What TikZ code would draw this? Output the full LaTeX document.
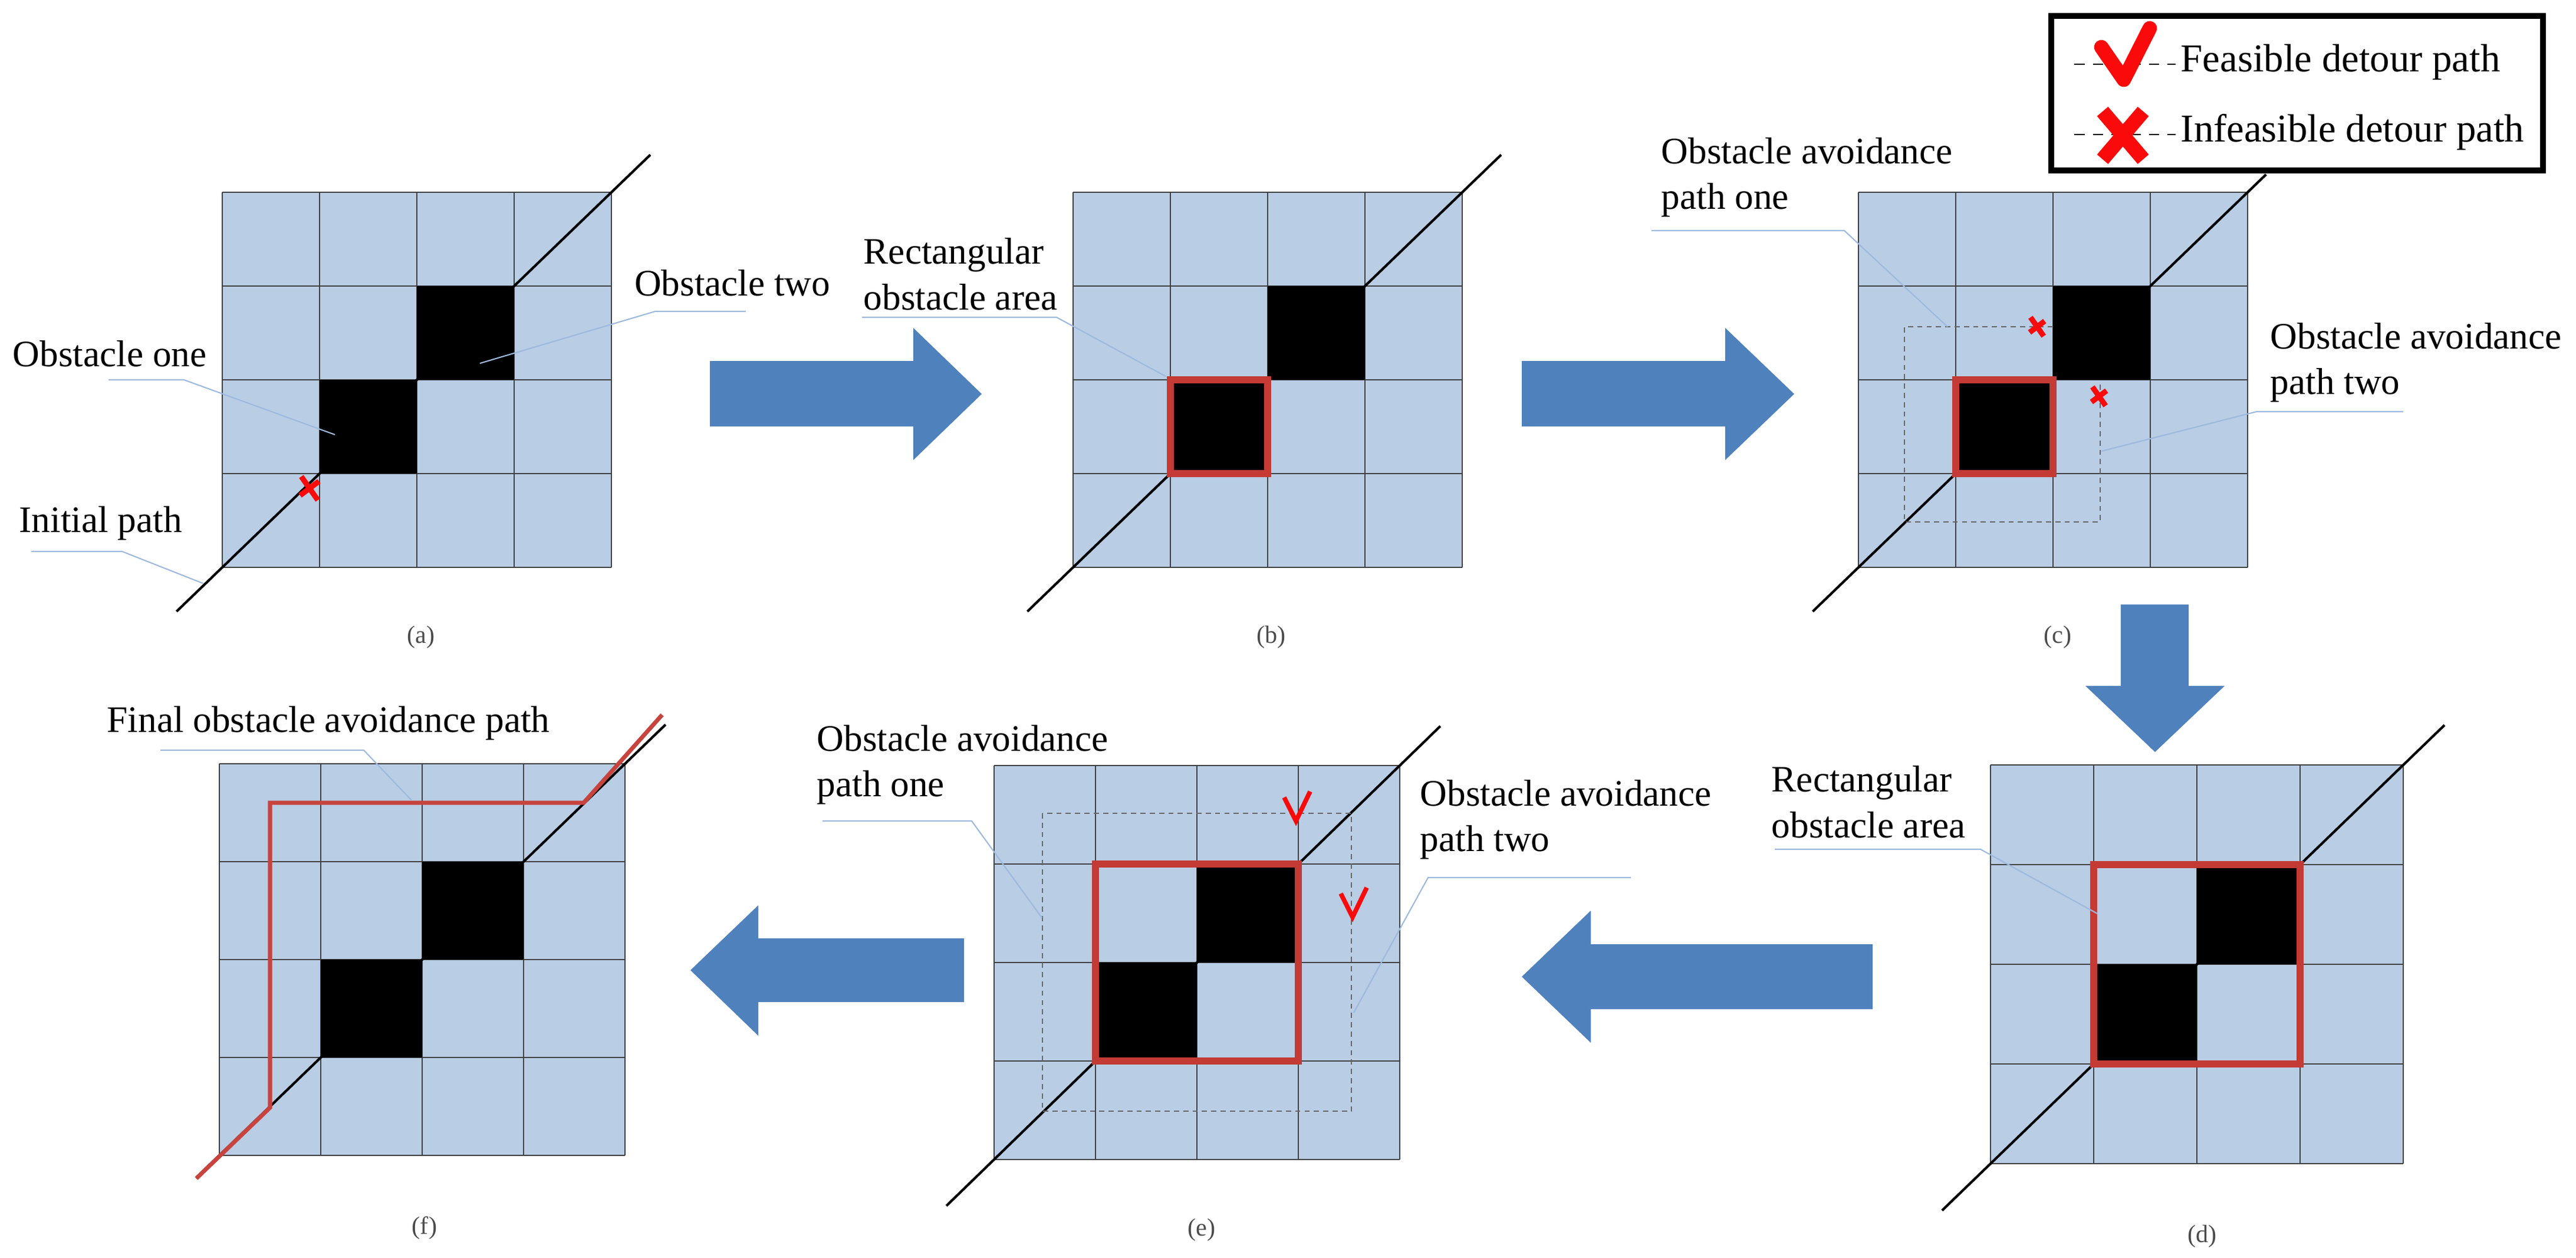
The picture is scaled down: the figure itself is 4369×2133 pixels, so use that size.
\documentclass[tikz,border=0pt]{standalone}
\usepackage{fontspec}
\setmainfont{Liberation Serif}
\definecolor{cellblue}{HTML}{B9CDE5}
\definecolor{arrowblue}{HTML}{4F81BD}
\definecolor{leaderblue}{HTML}{9DB9DE}
\definecolor{obsred}{RGB}{196,58,52}
\definecolor{markred}{RGB}{250,10,10}
\tikzset{
  gridline/.style={draw=black!75,line width=0.8pt},
  diag/.style={black,line width=1.2pt},
  obsrect/.style={draw=obsred,line width=3.4pt},
  detour/.style={draw=black!60,line width=0.7pt,dash pattern=on 2.5pt off 2pt},
  leader/.style={draw=leaderblue,line width=0.6pt},
  lbl/.style={font=\fontsize{18}{22}\selectfont,inner sep=0pt,align=left},
  sub/.style={font=\fontsize{12}{14}\selectfont,text=black!70,inner sep=0pt},
  bigarrow/.style={fill=arrowblue},
  xmark/.pic={\draw[markred,line width=2.6pt] (-14,-20) -- (14,20) (-16,12) -- (16,-12);},
  chk/.pic={\draw[markred,line width=2.2pt] (-20,-18) -- (0,22) -- (24,-28);}
}
% one 4x4 cell panel: x0, y0, cell w, cell h, top ext, bottom ext
\newcommand{\gridpanel}[6]{%
  \fill[cellblue] (#1,#2) rectangle ++(4*#3,4*#4);
  \foreach \i in {0,...,4}{
    \draw[gridline] ({#1+\i*#3},#2) -- ++(0,4*#4);
    \draw[gridline] (#1,{#2+\i*#4}) -- ++(4*#3,0);
  }
  \draw[diag] ({#1-#6*#3},{#2+(4+#6)*#4}) -- ({#1+(4+#5)*#3},{#2-#5*#4});
  \fill ({#1+#3},{#2+2*#4}) rectangle ++(#3,#4);
  \fill ({#1+2*#3},{#2+#4}) rectangle ++(#3,#4);
}

\begin{document}
\begin{tikzpicture}[x=0.01cm,y=-0.01cm]
  \useasboundingbox (0,0) rectangle (4369,2133);

  % top row
  \gridpanel{377}{326}{165}{159}{0.4}{0.47}
  \gridpanel{1820}{326}{165}{159}{0.4}{0.47}
  \gridpanel{3152}{326}{165}{159}{0.19}{0.47}
  \draw[obsrect] (1985,644) rectangle ++(165,159);
  \draw[obsrect] (3317,644) rectangle ++(165,159);

  % bottom row
  \gridpanel{3376}{1297}{175}{169}{0.4}{0.47}
  \gridpanel{1686}{1298}{172}{167}{0.4}{0.47}
  \gridpanel{372}{1295}{172}{166}{0.4}{0.23}
  \draw[obsrect] (3551,1466) rectangle ++(350,338);
  \draw[obsrect] (1858,1465) rectangle ++(344,334);

  % detour paths
  \draw[detour] (3482,554) -- (3230,554) -- (3230,885) -- (3562,885) -- (3562,652);
  \draw[detour] (1768,1379) rectangle (2292,1884);
  \draw[obsred!95,line width=2pt] (333,1998) -- (458,1878) -- (458,1361) -- (990,1361) -- (1123,1212);

  % marks
  \pic at (525,828) {xmark};
  \pic[scale=0.8] at (3455,554) {xmark};
  \pic[scale=0.8] at (3560,672) {xmark};
  \pic at (2198,1370) {chk};
  \pic at (2294,1533) {chk};

  % big arrows
  \fill[bigarrow] (1204,612) -- (1549,612) -- (1549,556) -- (1665,668) -- (1549,780) -- (1549,723) -- (1204,723) -- cycle;
  \fill[bigarrow] (2581,612) -- (2926,612) -- (2926,556) -- (3043,668) -- (2926,780) -- (2926,723) -- (2581,723) -- cycle;
  \fill[bigarrow] (3597,1025) -- (3712,1025) -- (3712,1163) -- (3773,1163) -- (3655,1275) -- (3537,1163) -- (3597,1163) -- cycle;
  \fill[bigarrow] (3176,1601) -- (2698,1601) -- (2698,1544) -- (2581,1656) -- (2698,1768) -- (2698,1711) -- (3176,1711) -- cycle;
  \fill[bigarrow] (1635,1591) -- (1286,1591) -- (1286,1535) -- (1171,1645) -- (1286,1756) -- (1286,1699) -- (1635,1699) -- cycle;

  % labels
  \node[lbl,anchor=west] (obsone) at (21,600) {Obstacle one};
  \node[lbl,anchor=west] (initpath) at (32,887) {Initial path};
  \node[lbl,anchor=east] (obstwo) at (1409,480) {Obstacle two};
  \node[lbl,anchor=west] (rectb) at (1464,465) {Rectangular\\obstacle area};
  \node[lbl,anchor=west] (oneC) at (2817,301) {Obstacle avoidance\\path one};
  \node[lbl,anchor=west] (twoC) at (3850,615) {Obstacle avoidance\\path two};
  \node[lbl,anchor=west] (rectd) at (3004,1360) {Rectangular\\obstacle area};
  \node[lbl,anchor=west] (oneE) at (1385,1297) {Obstacle avoidance\\path one};
  \node[lbl,anchor=west] (twoE) at (2408,1390) {Obstacle avoidance\\path two};
  \node[lbl,anchor=west] (final) at (181,1226) {Final obstacle avoidance path};

  \coordinate (oneT) at (568,737);
  \coordinate (initT) at (344,989);
  \coordinate (twoT) at (814,616);
  \coordinate (rectbT) at (1977,638);
  \coordinate (oneCT) at (3303,554);
  \coordinate (twoCT) at (3564,765);
  \coordinate (rectdT) at (3557,1549);
  \coordinate (oneET) at (1767,1556);
  \coordinate (twoET) at (2296,1717);
  \coordinate (finalT) at (698,1357);
  \draw[leader] (184,644) -- (312,644) -- (oneT);
  \draw[leader] (53,935) -- (207,935) -- (initT);
  \draw[leader] (1265,528) -- (1111,528) -- (twoT);
  \draw[leader] (1462,538) -- (1792,538) -- (rectbT);
  \draw[leader] (2801,391) -- (3128,391) -- (oneCT);
  \draw[leader] (4076,698) -- (3827,698) -- (twoCT);
  \draw[leader] (3010,1440) -- (3359,1440) -- (rectdT);
  \draw[leader] (1395,1392) -- (1648,1392) -- (oneET);
  \draw[leader] (2766,1488) -- (2422,1488) -- (twoET);
  \draw[leader] (272,1272) -- (617,1272) -- (finalT);

  \node[sub] (suba) at (714,1080) {(a)};
  \node[sub] (subb) at (2156,1080) {(b)};
  \node[sub] (subc) at (3490,1080) {(c)};
  \node[sub] (subd) at (3735,2096) {(d)};
  \node[sub] (sube) at (2038,2085) {(e)};
  \node[sub] (subf) at (720,2082) {(f)};

  % legend
  \draw[line width=3pt,fill=white] (3479,27) rectangle (4313,289);
  \draw[dash pattern=on 5pt off 4pt,line width=0.8pt] (3518,109) -- (3690,109);
  \draw[dash pattern=on 5pt off 4pt,line width=0.8pt] (3518,228) -- (3690,228);
  \draw[markred,line width=7pt,line cap=round,line join=round] (3564,80) -- (3602,135) -- (3646,48);
  \draw[markred,line width=7pt] (3566,189) -- (3635,270) (3635,189) -- (3566,270);
  \node[lbl,anchor=west,font=\fontsize{19}{22}\selectfont] (feas) at (3698,105) {Feasible detour path};
  \node[lbl,anchor=west,font=\fontsize{19}{22}\selectfont] (infeas) at (3698,224) {Infeasible detour path};
\end{tikzpicture}
\end{document}
